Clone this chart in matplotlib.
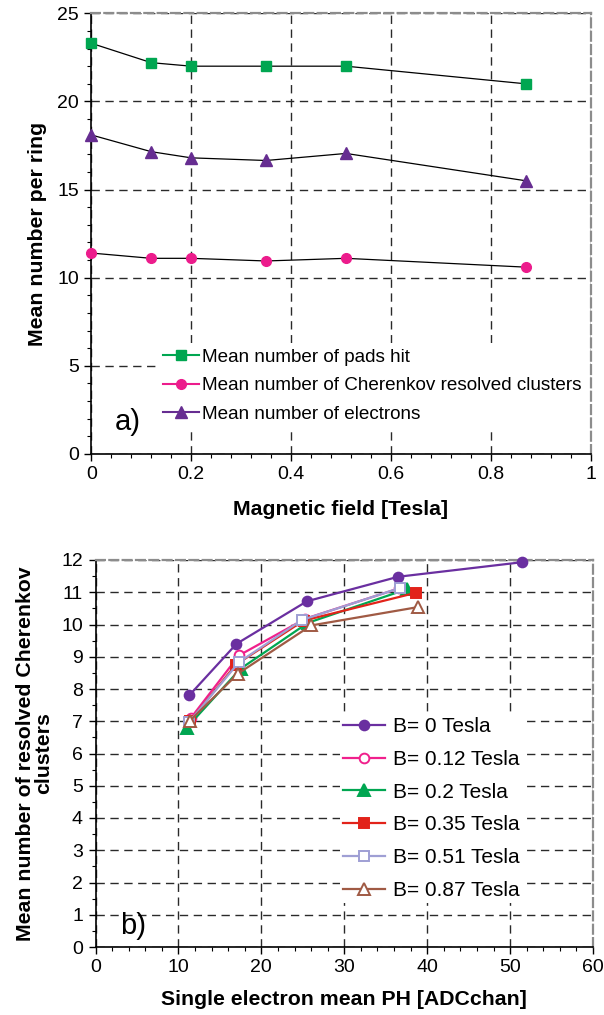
import matplotlib
matplotlib.use("Agg")
import matplotlib.pyplot as plt
from matplotlib.lines import Line2D
from matplotlib.ticker import MultipleLocator

plt.rcParams['font.family'] = ['Liberation Sans', 'DejaVu Sans']

# a) mean numbers per ring vs magnetic field
field = [0, 0.12, 0.2, 0.35, 0.51, 0.87]
pads_hit = [23.3, 22.2, 22.0, 22.0, 22.0, 21.0]
clusters = [11.4, 11.1, 11.1, 10.95, 11.1, 10.6]
electrons = [18.1, 17.15, 16.8, 16.65, 17.05, 15.5]

# b) resolved clusters vs single electron pulse height
b_labels = ['B= 0 Tesla', 'B= 0.12 Tesla', 'B= 0.2 Tesla',
            'B= 0.35 Tesla', 'B= 0.51 Tesla', 'B= 0.87 Tesla']
ph = [
    [11.3, 17.0, 25.5, 36.5, 51.4],
    [11.5, 17.3, 25.3, 36.6],
    [11.0, 17.5, 25.6, 37.6],
    [11.4, 16.9, 25.1, 38.6],
    [11.3, 17.3, 24.9, 36.7],
    [11.4, 17.2, 26.0, 38.9],
]
nclus = [
    [7.8, 9.4, 10.72, 11.48, 11.93],
    [7.1, 9.04, 10.18, 11.12],
    [6.8, 8.63, 10.05, 11.1],
    [7.0, 8.75, 10.12, 10.98],
    [6.98, 8.83, 10.14, 11.13],
    [7.02, 8.48, 9.97, 10.54],
]

W, H = 604, 1015
fig = plt.figure(figsize=(W / 100, H / 100), dpi=100)


def px_axes(x0, y0, x1, y1):
    # axes box given in pixels measured from the top-left corner
    return fig.add_axes([x0 / W, 1 - y1 / H, (x1 - x0) / W, (y1 - y0) / H])


def excel_frame(ax):
    ax.grid(True, which='major', color='#2a2a2a', linestyle=(0, (6, 4)), linewidth=1.0)
    ax.set_axisbelow(True)
    for s in ('top', 'right'):
        ax.spines[s].set_color('#8c8c8c')
        ax.spines[s].set_linestyle((0, (4, 2)))
        ax.spines[s].set_linewidth(1.6)
    for s in ('left', 'bottom'):
        ax.spines[s].set_color('black')
        ax.spines[s].set_linewidth(1.2)
    ax.tick_params(which='both', direction='out', top=False, right=False, color='black')
    ax.tick_params(which='major', length=5, width=1, labelsize=14, pad=4)
    ax.tick_params(which='minor', length=3, width=0.8)


# ---------- panel a ----------
ax1 = px_axes(91.3, 13.3, 590.7, 454)
excel_frame(ax1)
ax1.set_xlim(0, 1)
ax1.set_ylim(0, 25)
ax1.xaxis.set_major_locator(MultipleLocator(0.2))
ax1.xaxis.set_minor_locator(MultipleLocator(0.04))
ax1.yaxis.set_major_locator(MultipleLocator(5))
ax1.yaxis.set_minor_locator(MultipleLocator(1))
ax1.xaxis.set_major_formatter(plt.FuncFormatter(lambda v, p: '%g' % round(v, 2)))

green, pink, purple = '#00a651', '#ec1c8c', '#662d91'
ax1.plot(field, pads_hit, color='black', lw=0.9, marker='s', ms=7,
         mfc=green, mec=green, clip_on=False, zorder=3)
ax1.plot(field, clusters, color='black', lw=0.9, marker='o', ms=7,
         mfc=pink, mec=pink, clip_on=False, zorder=3)
ax1.plot(field, electrons, color='black', lw=0.9, marker='^', ms=8,
         mfc=purple, mec=purple, clip_on=False, zorder=3)

h1 = [Line2D([], [], color=green, lw=1.5, marker='s', ms=7),
      Line2D([], [], color=pink, lw=1.5, marker='o', ms=7),
      Line2D([], [], color=purple, lw=1.5, marker='^', ms=8)]
ax1.legend(h1, ['Mean number of pads hit',
                'Mean number of Cherenkov resolved clusters',
                'Mean number of electrons'],
           loc='upper left', bbox_to_anchor=(157 / W, 1 - 343 / H),
           bbox_transform=fig.transFigure, frameon=True, fancybox=False,
           edgecolor='none', facecolor='white', framealpha=1,
           fontsize=13.6, handlelength=1.9, handletextpad=0.2,
           labelspacing=0.6, borderpad=0.3, borderaxespad=0)
fig.text(128 / W, 1 - 422 / H, 'a)', fontsize=21, ha='center', va='center')
ax1.set_xlabel('Magnetic field [Tesla]', fontsize=15.3, fontweight='bold', labelpad=12)
ax1.set_ylabel('Mean number per ring', fontsize=15.3, fontweight='bold', labelpad=7)

# ---------- panel b ----------
ax2 = px_axes(95.5, 560, 593, 947)
excel_frame(ax2)
ax2.set_xlim(0, 60)
ax2.set_ylim(0, 12)
ax2.xaxis.set_major_locator(MultipleLocator(10))
ax2.xaxis.set_minor_locator(MultipleLocator(2))
ax2.yaxis.set_major_locator(MultipleLocator(1))
ax2.yaxis.set_minor_locator(MultipleLocator(0.5))

styles = [
    dict(color='#6a2fa0', marker='o', ms=7, mfc='#6a2fa0'),
    dict(color='#f0208c', marker='o', ms=7, mfc='white'),
    dict(color='#00a651', marker='^', ms=8, mfc='#00a651'),
    dict(color='#e2231a', marker='s', ms=7, mfc='#e2231a'),
    dict(color='#9f9fd4', marker='s', ms=7, mfc='white'),
    dict(color='#a05a44', marker='^', ms=8, mfc='white'),
]
handles = []
for xs, ys, st, lab in zip(ph, nclus, styles, b_labels):
    ln, = ax2.plot(xs, ys, lw=1.6, mew=1.4, mec=st['color'], clip_on=False,
                   zorder=3, label=lab, **st)
    handles.append(ln)

ax2.legend(handles, b_labels, loc='upper left',
           bbox_to_anchor=(340 / W, 1 - 714 / H),
           bbox_transform=fig.transFigure, frameon=True, fancybox=False,
           edgecolor='none', facecolor='white', framealpha=1,
           fontsize=15, handlelength=2.0, handletextpad=0.4,
           labelspacing=0.66, borderpad=0.15, borderaxespad=0)
fig.text(133 / W, 1 - 926 / H, 'b)', fontsize=21, ha='center', va='center')
ax2.set_xlabel('Single electron mean PH [ADCchan]', fontsize=15.3, fontweight='bold', labelpad=10)
ax2.set_ylabel('Mean number of resolved Cherenkov\nclusters', fontsize=15.3,
               fontweight='bold', labelpad=6, linespacing=0.95)

fig.savefig('out.png', dpi=100)
